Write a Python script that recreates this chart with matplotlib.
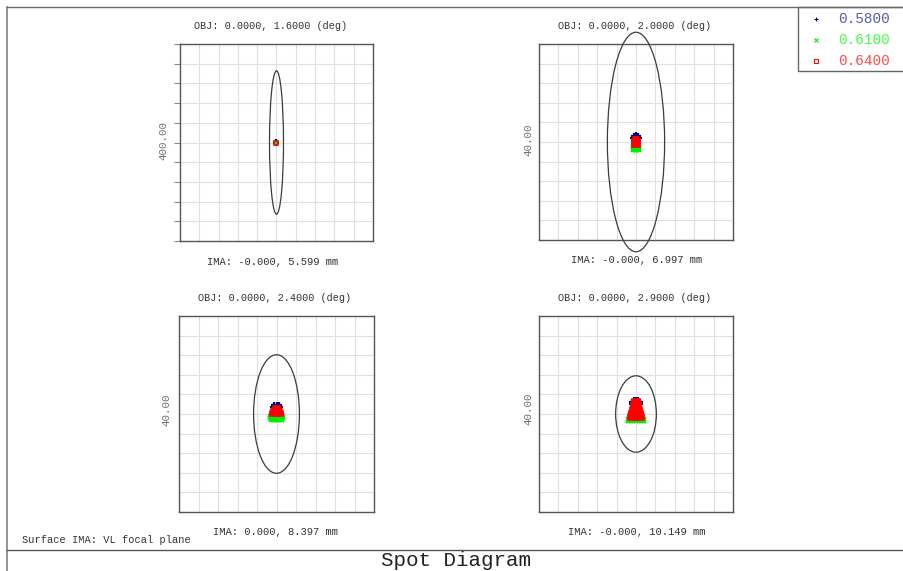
import matplotlib
matplotlib.use("Agg")
import matplotlib.pyplot as plt
from matplotlib.patches import Ellipse, Rectangle
from matplotlib.lines import Line2D

W, H = 904, 571
DPI = 100

# ---------------- data ----------------
field_titles = ["OBJ: 0.0000, 1.6000 (deg)", "OBJ: 0.0000, 2.0000 (deg)",
                "OBJ: 0.0000, 2.4000 (deg)", "OBJ: 0.0000, 2.9000 (deg)"]
ima_labels = ["IMA: -0.000, 5.599 mm", "IMA: -0.000, 6.997 mm",
              "IMA: 0.000, 8.397 mm", "IMA: -0.000, 10.149 mm"]
scale_labels = ["400.00", "40.00", "40.00", "40.00"]
scale_values = [400.0, 40.0, 40.0, 40.0]          # box size in micrometres
airy_rx = [14.5, 5.9, 4.7, 4.2]                    # Airy ellipse semi-axis x (um)
airy_ry = [145.6, 22.4, 12.1, 7.8]                 # Airy ellipse semi-axis y (um)
wavelengths = ["0.5800", "0.6100", "0.6400"]

# ray positions (x, y) in micrometres relative to the chief ray
f1_580 = [(0.0, 0.6), (0.0, 0.0)]
f1_610 = [(0.0, -0.6), (0.0, 0.0)]
f1_640 = [(0.0, 0.0)]

f2_580 = [(-0.7, 0.9), (-0.4, 1.25), (0.0, 1.4), (0.4, 1.25), (0.7, 0.9), (0.0, 1.0)]
f2_610 = [(-0.7, -0.9), (-0.35, -0.9), (0.0, -0.9), (0.35, -0.9), (0.7, -0.9),
          (-0.7, -1.3), (-0.35, -1.3), (0.0, -1.3), (0.35, -1.3), (0.7, -1.3),
          (-0.6, -1.6), (-0.3, -1.6), (0.0, -1.6), (0.3, -1.6), (0.6, -1.6)]
f2_640 = [(-0.3, 0.55), (0.0, 0.6), (0.3, 0.55),
          (-0.4, 0.3), (0.0, 0.3), (0.4, 0.3),
          (-0.4, 0.0), (0.0, 0.0), (0.4, 0.0),
          (-0.4, -0.35), (0.0, -0.35), (0.4, -0.35),
          (-0.4, -0.6), (0.0, -0.6), (0.4, -0.6)]

f3_580 = [(-0.8, 1.35), (-0.5, 1.75), (0.0, 1.9), (0.5, 1.75), (0.8, 1.35)]
f3_610 = [(-1.3, -0.5), (-0.9, -0.5), (-0.45, -0.5), (0.0, -0.5), (0.45, -0.5), (0.9, -0.5), (1.3, -0.5),
          (-1.3, -0.85), (-0.9, -0.85), (-0.45, -0.85), (0.0, -0.85), (0.45, -0.85), (0.9, -0.85), (1.3, -0.85),
          (-1.2, -1.15), (-0.8, -1.15), (-0.4, -1.15), (0.0, -1.15), (0.4, -1.15), (0.8, -1.15), (1.2, -1.15)]
f3_640 = [(-0.3, 1.2), (0.0, 1.25), (0.3, 1.2),
          (-0.55, 0.9), (-0.2, 0.9), (0.2, 0.9), (0.55, 0.9),
          (-0.75, 0.6), (-0.35, 0.6), (0.0, 0.6), (0.35, 0.6), (0.75, 0.6),
          (-0.85, 0.3), (-0.4, 0.3), (0.0, 0.3), (0.4, 0.3), (0.85, 0.3),
          (-0.9, -0.05), (-0.45, -0.05), (0.0, -0.05), (0.45, -0.05), (0.9, -0.05)]

f4_580 = [(-0.85, 2.0), (-0.75, 2.4), (0.85, 2.0), (0.75, 2.4), (0.0, 2.95), (-0.45, 2.85), (0.45, 2.85)]
f4_610 = [(-1.65, -1.0), (-1.1, -1.0), (-0.55, -1.0), (0.0, -1.0), (0.55, -1.0), (1.1, -1.0), (1.65, -1.0),
          (-1.65, -1.4), (-1.1, -1.4), (-0.55, -1.4), (0.0, -1.4), (0.55, -1.4), (1.1, -1.4), (1.65, -1.4)]
f4_640 = [(-0.4, 2.7), (0.0, 2.75), (0.4, 2.7),
          (-0.5, 2.3), (0.0, 2.3), (0.5, 2.3),
          (-0.6, 1.9), (-0.2, 1.9), (0.2, 1.9), (0.6, 1.9),
          (-0.7, 1.5), (-0.25, 1.5), (0.25, 1.5), (0.7, 1.5),
          (-0.8, 1.1), (-0.4, 1.1), (0.0, 1.1), (0.4, 1.1), (0.8, 1.1),
          (-0.9, 0.7), (-0.45, 0.7), (0.0, 0.7), (0.45, 0.7), (0.9, 0.7),
          (-1.0, 0.3), (-0.5, 0.3), (0.0, 0.3), (0.5, 0.3), (1.0, 0.3),
          (-1.1, -0.1), (-0.55, -0.1), (0.0, -0.1), (0.55, -0.1), (1.1, -0.1),
          (-1.2, -0.5), (-0.6, -0.5), (0.0, -0.5), (0.6, -0.5), (1.2, -0.5),
          (-1.25, -0.85), (-0.6, -0.85), (0.0, -0.85), (0.6, -0.85), (1.25, -0.85)]

spots = [(f1_580, f1_610, f1_640), (f2_580, f2_610, f2_640),
         (f3_580, f3_610, f3_640), (f4_580, f4_610, f4_640)]

# ---------------- style ----------------
mono = "Liberation Mono"
marker_colors = ["#00007a", "#00ee00", "#ff0000"]
legend_text_colors = ["#5a5aa8", "#44ff44", "#ff4c4c"]

# panel boxes in pixels: (left, top, right, bottom)
boxes = [(180, 44, 373, 241), (539, 44, 733, 240),
         (179, 316, 374, 512), (539, 316, 733, 512)]
title_pos = [(271, 26), (635, 26), (275, 298), (635, 298)]
ima_pos = [(273, 262), (637, 260), (276, 532), (637, 532)]
scale_pos = [(164, 140), (528, 140), (167, 410), (528, 409)]


def fx(px):
    return px / W


def fy(py):
    return 1 - py / H


fig = plt.figure(figsize=(W / DPI, H / DPI), dpi=DPI)
fig.patch.set_facecolor("white")

# outer frame lines
fig.add_artist(Line2D([fx(7), fx(7)], [fy(7), fy(571)], color="#8a8a8a", lw=1.3))
fig.add_artist(Line2D([fx(7), fx(904)], [fy(7), fy(7)], color="#6a6a6a", lw=1.0))
fig.add_artist(Line2D([fx(7), fx(904)], [fy(550), fy(550)], color="#555555", lw=1.0))

for i, (l, t, r, b) in enumerate(boxes):
    ax = fig.add_axes([fx(l), fy(b), fx(r - l), (b - t) / H])
    half = scale_values[i] / 2
    ax.set_xlim(-half, half)
    ax.set_ylim(-half, half)
    step = scale_values[i] / 10
    ticks = [-half + k * step for k in range(11)]
    ax.set_xticks(ticks)
    ax.set_yticks(ticks)
    ax.grid(True, color="#e0e0e0", lw=0.8)
    ax.set_axisbelow(True)
    ax.tick_params(labelbottom=False, labelleft=False, bottom=False)
    if i == 0:
        ax.tick_params(axis="y", left=True, direction="out", length=4, color="#888888", width=0.8)
    else:
        ax.tick_params(axis="y", left=False)
    for s in ax.spines.values():
        s.set_color("#555555")
        s.set_linewidth(1.0)

    ell = Ellipse((0, 0), 2 * airy_rx[i], 2 * airy_ry[i], fill=False,
                  edgecolor="#3c3c3c", lw=0.9, clip_on=False, zorder=3)
    ax.add_patch(ell)

    sb, sg, sr = spots[i]
    ax.plot([p[0] for p in sb], [p[1] for p in sb], linestyle="none", marker="+",
            ms=4.2, mew=1.6, color=marker_colors[0], zorder=4, clip_on=False)
    ax.plot([p[0] for p in sg], [p[1] for p in sg], linestyle="none", marker="x",
            ms=3.2, mew=1.4, color=marker_colors[1], zorder=5, clip_on=False)
    ax.plot([p[0] for p in sr], [p[1] for p in sr], linestyle="none", marker="s",
            ms=2.6, mew=1.1, mfc="none" if i == 0 else marker_colors[2],
            mec=marker_colors[2], zorder=6, clip_on=False)

    fig.text(fx(title_pos[i][0]), fy(title_pos[i][1]), field_titles[i], family=mono,
             fontsize=7.3, color="#333333", ha="center", va="center")
    fig.text(fx(ima_pos[i][0]), fy(ima_pos[i][1]), ima_labels[i], family=mono,
             fontsize=7.6, color="#333333", ha="center", va="center")
    fig.text(fx(scale_pos[i][0]), fy(scale_pos[i][1]), scale_labels[i], family=mono,
             fontsize=7.8, color="#707070", ha="center", va="center", rotation=90)

# legend box
fig.add_artist(Rectangle((fx(798), fy(71)), fx(904 - 798), (71 - 7) / H, transform=fig.transFigure,
                         fill=False, edgecolor="#666666", lw=1.0))
leg_markers = ["+", "x", "s"]
leg_y = [19, 40, 61]
for k in range(3):
    fig.add_artist(Line2D([fx(816)], [fy(leg_y[k])], marker=leg_markers[k], linestyle="none",
                          ms=3.0, mew=0.8, color=marker_colors[k],
                          mfc="none" if k == 2 else marker_colors[k]))
    fig.text(fx(838), fy(leg_y[k]), wavelengths[k], family=mono, fontsize=10.4,
             color=legend_text_colors[k], ha="left", va="center")

fig.text(fx(22), fy(540), "Surface IMA: VL focal plane", family=mono, fontsize=7.5,
         color="#333333", ha="left", va="center")
fig.text(fx(456), fy(561), "Spot Diagram", family=mono, fontsize=15,
         color="#222222", ha="center", va="center")

fig.savefig("out.png", dpi=DPI, facecolor="white")
